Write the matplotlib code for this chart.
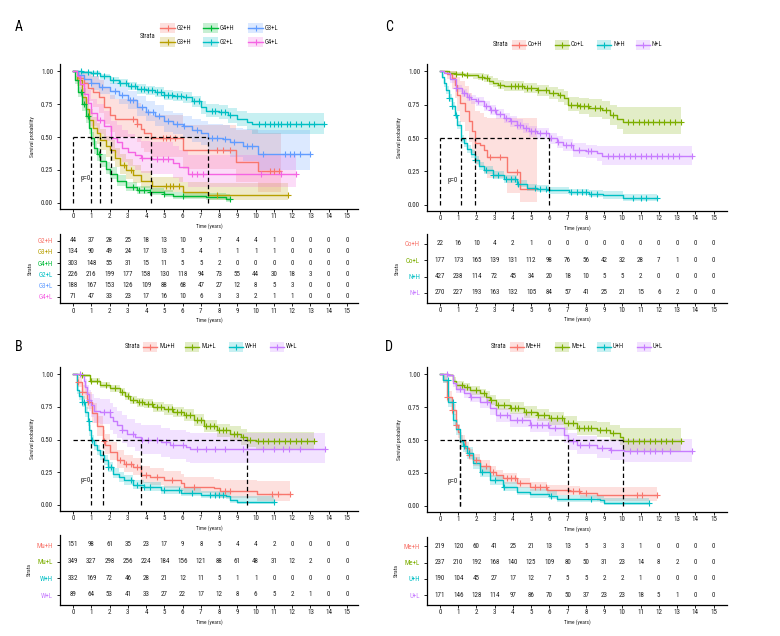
import numpy as np
import matplotlib
matplotlib.use('Agg')
import matplotlib.pyplot as plt
import matplotlib.font_manager as fm
from matplotlib.patches import Rectangle

_entries = fm.fontManager.ttflist
_avail = {f.name for f in _entries}
_cands = ['Liberation Sans Narrow', 'Roboto Condensed', 'Open Sans Condensed', 'Noto Sans Condensed',
          'Noto Sans SemiCondensed', 'DejaVu Sans Condensed', 'Open Sans SemiCondensed']
BASE_FONT = next((c for c in _cands if c in _avail), None)
STRETCH = 'normal'
CONDENSED = True
if BASE_FONT is None:
    cond = [f for f in _entries if 'condensed' in str(f.stretch) or 'narrow' in f.fname.lower()
            or 'condensed' in f.fname.lower()]
    if cond:
        BASE_FONT = cond[0].name
        STRETCH = cond[0].stretch
    else:
        BASE_FONT = 'Liberation Sans'
        CONDENSED = False
plt.rcParams['font.family'] = [BASE_FONT, 'DejaVu Sans']
plt.rcParams['font.stretch'] = STRETCH

YEARS = list(range(16))
YTICKS = [0.0, 0.25, 0.5, 0.75, 1.0]
YTICKLABELS = ['0.00', '0.25', '0.50', '0.75', '1.00']

# ---------------- Panel A ----------------
a_names = ['G2+H', 'G3+H', 'G4+H', 'G2+L', 'G3+L', 'G4+L']
a_colors = ['#F8766D', '#B79F00', '#00BA38', '#00BFC4', '#619CFF', '#F564E3']

a_g2h_t = [0, 0.3, 0.6, 0.8, 1.1, 1.4, 1.7, 2.0, 2.3, 3.5, 3.7, 3.9, 4.27, 6.0, 8.9, 10.1]
a_g2h_s = [1.0, 0.95, 0.91, 0.87, 0.84, 0.80, 0.73, 0.67, 0.64, 0.60, 0.56, 0.53, 0.49, 0.40, 0.31, 0.24]
a_g2h_lo = [1.0, 0.88, 0.82, 0.77, 0.73, 0.68, 0.60, 0.54, 0.50, 0.46, 0.42, 0.39, 0.35, 0.26, 0.16, 0.08]
a_g2h_hi = [1.0, 1.0, 1.0, 0.98, 0.96, 0.93, 0.87, 0.82, 0.79, 0.76, 0.73, 0.70, 0.67, 0.59, 0.55, 0.53]
a_g2h_end = 11.4
a_g2h_cens = [3.3, 3.5, 4.9, 5.1, 5.3, 5.6, 7.9, 8.2, 8.6, 10.8, 11.0, 11.3]

a_g3h_t = [0, 0.2, 0.5, 0.7, 0.9, 1.1, 1.3, 1.46, 1.8, 2.0, 2.3, 2.6, 2.9, 3.3, 3.7, 4.3, 6.0, 7.4]
a_g3h_s = [1.0, 0.93, 0.80, 0.71, 0.63, 0.57, 0.53, 0.48, 0.43, 0.40, 0.34, 0.29, 0.25, 0.21, 0.17, 0.13, 0.085, 0.063]
a_g3h_lo = [1.0, 0.89, 0.74, 0.64, 0.56, 0.49, 0.45, 0.40, 0.35, 0.32, 0.27, 0.22, 0.18, 0.15, 0.11, 0.08, 0.04, 0.02]
a_g3h_hi = [1.0, 0.97, 0.87, 0.79, 0.71, 0.65, 0.61, 0.56, 0.51, 0.48, 0.42, 0.37, 0.33, 0.29, 0.24, 0.20, 0.16, 0.15]
a_g3h_end = 11.75
a_g3h_cens = [2.8, 3.2, 5.1, 5.3, 5.5, 5.8, 7.9, 11.75]

a_g4h_t = [0, 0.1, 0.3, 0.5, 0.7, 0.85, 0.97, 1.15, 1.3, 1.5, 1.8, 2.0, 2.4, 2.9, 3.5, 4.2, 5.0, 5.5, 7.3, 8.4]
a_g4h_s = [1.0, 0.93, 0.84, 0.75, 0.66, 0.57, 0.49, 0.42, 0.37, 0.32, 0.26, 0.22, 0.17, 0.12, 0.095, 0.083, 0.07, 0.05, 0.045, 0.03]
a_g4h_lo = [1.0, 0.90, 0.80, 0.70, 0.61, 0.52, 0.44, 0.37, 0.32, 0.27, 0.22, 0.18, 0.13, 0.09, 0.068, 0.058, 0.046, 0.03, 0.025, 0.01]
a_g4h_hi = [1.0, 0.96, 0.88, 0.80, 0.71, 0.62, 0.54, 0.47, 0.42, 0.37, 0.31, 0.27, 0.21, 0.16, 0.13, 0.115, 0.10, 0.08, 0.075, 0.07]
a_g4h_end = 8.6
a_g4h_cens = [0.45, 0.6, 0.8, 1.4, 3.3, 3.6, 3.9, 4.2, 5.0, 6.0, 8.6]

a_g2l_t = [0, 0.5, 1.0, 1.5, 2.0, 2.5, 3.0, 3.5, 4.0, 4.5, 5.0, 5.5, 6.0, 6.5, 7.0, 7.3, 8.0, 8.5, 9.0, 9.5, 9.8]
a_g2l_s = [1.0, 0.99, 0.985, 0.96, 0.93, 0.91, 0.885, 0.865, 0.855, 0.84, 0.82, 0.81, 0.80, 0.77, 0.725, 0.70, 0.69, 0.665, 0.64, 0.615, 0.60]
a_g2l_lo = [1.0, 0.98, 0.97, 0.94, 0.905, 0.88, 0.855, 0.83, 0.82, 0.80, 0.78, 0.77, 0.755, 0.725, 0.675, 0.65, 0.64, 0.61, 0.58, 0.55, 0.52]
a_g2l_hi = [1.0, 1.0, 1.0, 0.98, 0.955, 0.94, 0.915, 0.90, 0.89, 0.88, 0.86, 0.85, 0.845, 0.815, 0.775, 0.75, 0.74, 0.72, 0.70, 0.685, 0.68]
a_g2l_end = 13.75
a_g2l_cens = [0.45, 0.8, 1.1, 1.3, 1.7, 2.2, 2.6, 2.9, 3.2, 3.4, 3.7, 3.9, 4.1, 4.3, 4.6, 4.8, 5.0, 5.2,
              5.4, 5.7, 5.9, 6.2, 6.6, 6.9, 7.6, 7.8, 8.1, 8.3, 8.6, 10.2, 10.5, 10.8, 11.0, 11.2, 11.4,
              11.7, 11.9, 12.2, 12.5, 12.9, 13.2, 13.75]

a_g3l_t = [0, 0.3, 0.6, 1.0, 1.4, 2.0, 2.5, 3.0, 3.5, 4.0, 4.5, 5.0, 5.5, 6.0, 6.5, 7.0, 7.4, 8.2, 8.6, 9.3, 10.1]
a_g3l_s = [1.0, 0.97, 0.94, 0.91, 0.88, 0.85, 0.82, 0.78, 0.73, 0.69, 0.66, 0.62, 0.60, 0.58, 0.55, 0.53, 0.495, 0.485, 0.46, 0.435, 0.375]
a_g3l_lo = [1.0, 0.94, 0.90, 0.86, 0.83, 0.79, 0.75, 0.71, 0.66, 0.62, 0.58, 0.54, 0.52, 0.49, 0.46, 0.44, 0.40, 0.39, 0.35, 0.32, 0.25]
a_g3l_hi = [1.0, 1.0, 0.98, 0.96, 0.94, 0.91, 0.88, 0.85, 0.81, 0.77, 0.74, 0.70, 0.68, 0.66, 0.64, 0.62, 0.60, 0.59, 0.57, 0.56, 0.55]
a_g3l_end = 13.0
a_g3l_cens = [1.0, 1.6, 2.3, 2.7, 3.1, 3.3, 3.8, 4.1, 4.4, 4.7, 5.2, 5.7, 6.1, 6.8, 7.6, 7.9, 8.3, 8.8,
              9.5, 9.8, 10.4, 11.6, 11.9, 12.1, 12.4, 13.0]

a_g4l_t = [0, 0.2, 0.4, 0.6, 0.8, 1.0, 1.3, 1.7, 2.1, 2.4, 2.7, 3.0, 3.4, 3.7, 4.3, 5.5, 5.8, 6.3]
a_g4l_s = [1.0, 0.96, 0.90, 0.83, 0.76, 0.68, 0.63, 0.58, 0.49, 0.46, 0.42, 0.39, 0.36, 0.34, 0.33, 0.30, 0.27, 0.22]
a_g4l_lo = [1.0, 0.91, 0.83, 0.74, 0.66, 0.58, 0.52, 0.47, 0.38, 0.35, 0.31, 0.28, 0.25, 0.23, 0.22, 0.19, 0.16, 0.12]
a_g4l_hi = [1.0, 1.0, 0.97, 0.92, 0.86, 0.79, 0.75, 0.70, 0.62, 0.59, 0.55, 0.52, 0.49, 0.47, 0.46, 0.43, 0.40, 0.36]
a_g4l_end = 12.2
a_g4l_cens = [1.5, 3.8, 4.6, 4.9, 5.2, 6.5, 6.8, 7.1, 10.3, 11.4, 12.2]

a_risk = [
    [44, 37, 28, 25, 18, 13, 10, 9, 7, 4, 4, 1, 0, 0, 0, 0],
    [134, 90, 49, 24, 17, 13, 5, 4, 1, 1, 1, 1, 0, 0, 0, 0],
    [303, 148, 55, 31, 15, 11, 5, 5, 2, 0, 0, 0, 0, 0, 0, 0],
    [226, 216, 199, 177, 158, 130, 118, 94, 73, 55, 44, 30, 18, 3, 0, 0],
    [188, 167, 153, 126, 109, 88, 68, 47, 27, 12, 8, 5, 3, 0, 0, 0],
    [71, 47, 33, 23, 17, 16, 10, 6, 3, 3, 2, 1, 1, 0, 0, 0],
]

# ---------------- Panel C ----------------
c_names = ['Co+H', 'Co+L', 'N+H', 'N+L']
c_colors = ['#F8766D', '#7CAE00', '#00BFC4', '#C77CFF']

c_coh_t = [0, 0.4, 0.66, 0.84, 0.93, 1.1, 1.4, 1.57, 1.75, 1.9, 2.2, 2.4, 2.6, 3.7, 4.4]
c_coh_s = [1.0, 0.98, 0.95, 0.90, 0.82, 0.76, 0.70, 0.63, 0.55, 0.46, 0.445, 0.41, 0.36, 0.244, 0.12]
c_coh_lo = [1.0, 0.94, 0.87, 0.80, 0.70, 0.62, 0.55, 0.47, 0.39, 0.30, 0.28, 0.24, 0.20, 0.09, 0.02]
c_coh_hi = [1.0, 1.0, 1.0, 1.0, 0.96, 0.93, 0.89, 0.84, 0.78, 0.70, 0.69, 0.66, 0.65, 0.65, 0.65]
c_coh_end = 5.3
c_coh_cens = [2.75, 3.3, 4.2]

c_col_t = [0, 0.5, 0.9, 1.3, 1.8, 2.1, 2.4, 2.7, 2.9, 3.2, 3.5, 4.6, 5.3, 6.0, 6.5, 6.8, 7.0, 7.6, 8.2, 8.9, 9.3, 9.7, 10.06]
c_col_s = [1.0, 0.99, 0.98, 0.975, 0.97, 0.96, 0.95, 0.93, 0.91, 0.90, 0.887, 0.874, 0.857, 0.837, 0.82, 0.80, 0.75, 0.74, 0.724, 0.71, 0.67, 0.645, 0.623]
c_col_lo = [1.0, 0.98, 0.965, 0.955, 0.945, 0.935, 0.92, 0.90, 0.88, 0.865, 0.85, 0.835, 0.815, 0.79, 0.77, 0.75, 0.70, 0.68, 0.66, 0.645, 0.60, 0.565, 0.53]
c_col_hi = [1.0, 1.0, 0.995, 0.99, 0.99, 0.985, 0.98, 0.965, 0.95, 0.935, 0.925, 0.915, 0.90, 0.885, 0.87, 0.855, 0.81, 0.80, 0.79, 0.775, 0.745, 0.73, 0.73]
c_col_end = 13.2
c_col_cens = [0.9, 1.2, 1.5, 2.3, 2.6, 3.3, 3.9, 4.1, 4.3, 4.5, 4.8, 5.0, 5.4, 5.8, 6.2, 6.6, 7.2, 7.5, 7.7,
              7.9, 8.1, 8.5, 8.8, 9.1, 9.5, 10.3, 10.6, 10.9, 11.2, 11.4, 11.7, 12.0, 12.3, 12.6, 12.9, 13.2]

c_nh_t = [0, 0.1, 0.2, 0.35, 0.5, 0.65, 0.8, 0.95, 1.15, 1.3, 1.5, 1.7, 1.9, 2.15, 2.4, 2.9, 3.5, 4.2, 4.75, 5.3, 6.0, 7.1, 8.2, 8.96, 10.06]
c_nh_s = [1.0, 0.96, 0.91, 0.86, 0.80, 0.74, 0.67, 0.60, 0.495, 0.46, 0.42, 0.38, 0.334, 0.29, 0.26, 0.22, 0.19, 0.158, 0.128, 0.12, 0.108, 0.095, 0.083, 0.07, 0.05]
c_nh_lo = [1.0, 0.94, 0.88, 0.83, 0.77, 0.71, 0.64, 0.57, 0.465, 0.43, 0.39, 0.35, 0.305, 0.26, 0.23, 0.19, 0.16, 0.13, 0.10, 0.095, 0.083, 0.07, 0.058, 0.045, 0.03]
c_nh_hi = [1.0, 0.98, 0.94, 0.89, 0.83, 0.77, 0.70, 0.63, 0.525, 0.49, 0.45, 0.41, 0.365, 0.32, 0.29, 0.25, 0.22, 0.188, 0.158, 0.15, 0.135, 0.122, 0.11, 0.10, 0.08]
c_nh_end = 11.9
c_nh_cens = [0.5, 0.65, 0.9, 1.9, 2.5, 2.9, 3.2, 3.6, 3.9, 4.1, 4.3, 5.2, 5.5, 5.8, 6.0, 7.2, 7.5, 7.8, 8.0,
             8.3, 8.6, 10.6, 11.0, 11.3, 11.9]

c_nl_t = [0, 0.2, 0.55, 0.9, 1.2, 1.46, 1.7, 2.0, 2.4, 2.74, 3.1, 3.5, 3.85, 4.2, 4.55, 4.9, 5.3, 5.97, 6.4, 6.77, 7.3, 8.0, 8.6, 8.9]
c_nl_s = [1.0, 0.99, 0.94, 0.874, 0.84, 0.81, 0.79, 0.774, 0.74, 0.71, 0.68, 0.65, 0.625, 0.60, 0.575, 0.55, 0.535, 0.497, 0.47, 0.447, 0.41, 0.40, 0.385, 0.364]
c_nl_lo = [1.0, 0.98, 0.915, 0.845, 0.81, 0.775, 0.755, 0.74, 0.70, 0.67, 0.64, 0.61, 0.585, 0.56, 0.535, 0.51, 0.495, 0.455, 0.425, 0.40, 0.36, 0.35, 0.33, 0.30]
c_nl_hi = [1.0, 1.0, 0.96, 0.90, 0.87, 0.84, 0.825, 0.81, 0.78, 0.75, 0.72, 0.69, 0.665, 0.64, 0.615, 0.59, 0.575, 0.54, 0.515, 0.495, 0.46, 0.45, 0.44, 0.44]
c_nl_end = 13.8
c_nl_cens = [0.9, 1.3, 1.6, 2.1, 2.5, 2.8, 3.0, 3.3, 3.6, 3.9, 4.2, 4.4, 4.7, 5.0, 5.2, 5.5, 5.8, 6.1, 6.5,
             6.9, 7.2, 7.6, 8.1, 8.3, 9.2, 9.5, 9.8, 10.1, 10.4, 10.7, 11.0, 11.3, 11.6, 11.9, 12.2, 12.5,
             12.8, 13.1, 13.8]

c_risk = [
    [22, 16, 10, 4, 2, 1, 0, 0, 0, 0, 0, 0, 0, 0, 0, 0],
    [177, 173, 165, 139, 131, 112, 98, 76, 56, 42, 32, 28, 7, 1, 0, 0],
    [427, 238, 114, 72, 45, 34, 20, 18, 10, 5, 5, 2, 0, 0, 0, 0],
    [270, 227, 193, 163, 132, 105, 84, 57, 41, 25, 21, 15, 6, 2, 0, 0],
]

# ---------------- Panel B ----------------
b_names = ['Mu+H', 'Mu+L', 'W+H', 'W+L']
b_colors = ['#F8766D', '#7CAE00', '#00BFC4', '#C77CFF']

b_muh_t = [0, 0.2, 0.5, 0.77, 1.04, 1.3, 1.63, 1.77, 2.04, 2.4, 2.8, 3.3, 3.7, 4.2, 5.0, 5.9, 6.06, 7.7, 8.07, 10.07]
b_muh_s = [1.0, 0.94, 0.86, 0.79, 0.70, 0.60, 0.49, 0.457, 0.406, 0.343, 0.31, 0.29, 0.23, 0.21, 0.19, 0.165, 0.14, 0.127, 0.11, 0.084]
b_muh_lo = [1.0, 0.90, 0.81, 0.73, 0.63, 0.53, 0.42, 0.39, 0.34, 0.28, 0.25, 0.23, 0.17, 0.15, 0.13, 0.11, 0.09, 0.07, 0.055, 0.03]
b_muh_hi = [1.0, 0.98, 0.92, 0.86, 0.78, 0.68, 0.57, 0.54, 0.48, 0.42, 0.38, 0.36, 0.30, 0.28, 0.26, 0.24, 0.21, 0.20, 0.19, 0.18]
b_muh_end = 11.9
b_muh_cens = [0.3, 0.5, 0.8, 1.7, 2.6, 2.9, 3.2, 3.5, 4.0, 4.6, 5.4, 6.6, 8.3, 8.6, 10.9, 11.2, 11.9]

b_mul_t = [0, 0.4, 0.95, 1.5, 2.04, 2.6, 2.85, 3.1, 3.5, 3.9, 4.4, 5.0, 5.5, 6.06, 6.6, 7.15, 7.9, 8.6, 9.2, 9.5, 10.0]
b_mul_s = [1.0, 0.99, 0.95, 0.914, 0.89, 0.863, 0.83, 0.80, 0.785, 0.774, 0.75, 0.73, 0.71, 0.685, 0.647, 0.60, 0.57, 0.546, 0.52, 0.498, 0.49]
b_mul_lo = [1.0, 0.98, 0.93, 0.89, 0.86, 0.83, 0.80, 0.77, 0.75, 0.74, 0.71, 0.69, 0.67, 0.64, 0.60, 0.555, 0.52, 0.495, 0.46, 0.44, 0.42]
b_mul_hi = [1.0, 1.0, 0.97, 0.94, 0.92, 0.895, 0.865, 0.835, 0.82, 0.81, 0.79, 0.77, 0.75, 0.73, 0.695, 0.65, 0.62, 0.60, 0.58, 0.56, 0.555]
b_mul_end = 13.2
b_mul_cens = [0.5, 1.0, 1.3, 1.8, 2.3, 2.7, 3.0, 3.3, 3.6, 3.8, 4.1, 4.3, 4.6, 4.8, 5.2, 5.4, 5.7, 5.9, 6.2,
              6.4, 6.8, 7.0, 7.3, 7.5, 7.7, 8.0, 8.2, 8.4, 8.8, 9.0, 9.3, 9.7, 10.1, 10.4, 10.7, 11.0, 11.3,
              11.6, 11.9, 12.2, 12.5, 12.8, 13.2]

b_wh_t = [0, 0.2, 0.35, 0.5, 0.68, 0.82, 0.9, 1.0, 1.17, 1.3, 1.5, 1.68, 1.9, 2.2, 2.5, 2.8, 3.3, 3.9, 4.8, 5.9, 7.0, 8.4, 8.6, 9.0]
b_wh_s = [1.0, 0.88, 0.83, 0.79, 0.71, 0.64, 0.57, 0.495, 0.46, 0.42, 0.38, 0.343, 0.29, 0.24, 0.21, 0.19, 0.152, 0.14, 0.114, 0.094, 0.076, 0.069, 0.038, 0.025]
b_wh_lo = [1.0, 0.85, 0.80, 0.75, 0.67, 0.60, 0.53, 0.455, 0.42, 0.38, 0.34, 0.305, 0.255, 0.205, 0.175, 0.155, 0.12, 0.108, 0.085, 0.067, 0.05, 0.043, 0.018, 0.008]
b_wh_hi = [1.0, 0.91, 0.87, 0.83, 0.75, 0.68, 0.61, 0.535, 0.50, 0.46, 0.42, 0.385, 0.33, 0.28, 0.25, 0.23, 0.19, 0.175, 0.148, 0.127, 0.11, 0.10, 0.07, 0.065]
b_wh_end = 11.0
b_wh_cens = [0.5, 0.6, 0.85, 1.05, 1.9, 2.1, 3.2, 3.5, 3.9, 4.2, 5.0, 5.8, 6.5, 7.5, 7.8, 8.0, 8.2, 11.0]

b_wl_t = [0, 0.5, 0.6, 0.68, 0.77, 0.86, 1.0, 1.13, 1.5, 2.04, 2.2, 2.4, 2.7, 2.96, 3.4, 3.75, 4.8, 5.3, 6.2, 6.4]
b_wl_s = [1.0, 0.99, 0.95, 0.90, 0.85, 0.80, 0.76, 0.72, 0.71, 0.67, 0.64, 0.61, 0.57, 0.546, 0.52, 0.495, 0.48, 0.457, 0.44, 0.424]
b_wl_lo = [1.0, 0.97, 0.90, 0.84, 0.78, 0.72, 0.67, 0.63, 0.62, 0.57, 0.54, 0.51, 0.47, 0.44, 0.41, 0.39, 0.37, 0.35, 0.33, 0.32]
b_wl_hi = [1.0, 1.0, 1.0, 0.96, 0.92, 0.88, 0.85, 0.82, 0.81, 0.78, 0.75, 0.72, 0.69, 0.66, 0.63, 0.61, 0.59, 0.57, 0.56, 0.55]
b_wl_end = 13.8
b_wl_cens = [0.4, 0.9, 1.7, 2.0, 2.7, 3.3, 3.8, 4.1, 4.6, 5.1, 5.5, 6.0, 6.8, 7.3, 7.8, 8.3, 9.3, 10.4,
             11.0, 11.5, 11.8, 12.4, 13.8]

b_risk = [
    [151, 98, 61, 35, 23, 17, 9, 8, 5, 4, 4, 2, 0, 0, 0, 0],
    [349, 327, 298, 256, 224, 184, 156, 121, 88, 61, 48, 31, 12, 2, 0, 0],
    [332, 169, 72, 46, 28, 21, 12, 11, 5, 1, 1, 0, 0, 0, 0, 0],
    [89, 64, 53, 41, 33, 27, 22, 17, 12, 8, 6, 5, 2, 1, 0, 0],
]

# ---------------- Panel D ----------------
d_names = ['Me+H', 'Me+L', 'U+H', 'U+L']
d_colors = ['#F8766D', '#7CAE00', '#00BFC4', '#C77CFF']

d_meh_t = [0, 0.18, 0.37, 0.64, 0.9, 1.0, 1.12, 1.37, 1.6, 1.83, 2.2, 2.75, 3.1, 3.48, 4.2, 4.95, 5.86, 7.1, 7.7, 8.6]
d_meh_s = [1.0, 0.957, 0.83, 0.73, 0.615, 0.56, 0.495, 0.438, 0.39, 0.35, 0.30, 0.26, 0.235, 0.21, 0.172, 0.147, 0.12, 0.116, 0.10, 0.084]
d_meh_lo = [1.0, 0.93, 0.79, 0.69, 0.57, 0.515, 0.45, 0.395, 0.345, 0.305, 0.26, 0.22, 0.195, 0.17, 0.135, 0.11, 0.085, 0.08, 0.06, 0.04]
d_meh_hi = [1.0, 0.985, 0.87, 0.77, 0.66, 0.605, 0.54, 0.485, 0.435, 0.395, 0.345, 0.30, 0.275, 0.25, 0.21, 0.185, 0.16, 0.155, 0.145, 0.14]
d_meh_end = 11.9
d_meh_cens = [0.4, 0.65, 0.9, 1.6, 2.0, 2.5, 2.9, 3.7, 3.9, 4.1, 4.4, 5.2, 5.5, 5.8, 7.0, 7.3, 7.6, 8.0,
              10.8, 11.1, 11.9]

d_mel_t = [0, 0.46, 0.7, 0.9, 1.3, 1.65, 2.2, 2.5, 2.75, 3.1, 3.85, 4.6, 5.3, 6.0, 6.8, 7.5, 8.6, 9.3, 9.9, 10.05]
d_mel_s = [1.0, 0.995, 0.95, 0.92, 0.90, 0.88, 0.856, 0.83, 0.805, 0.767, 0.742, 0.716, 0.69, 0.666, 0.628, 0.59, 0.577, 0.552, 0.526, 0.496]
d_mel_lo = [1.0, 0.985, 0.925, 0.89, 0.87, 0.845, 0.82, 0.79, 0.765, 0.725, 0.70, 0.67, 0.645, 0.615, 0.575, 0.535, 0.52, 0.49, 0.46, 0.42]
d_mel_hi = [1.0, 1.0, 0.975, 0.95, 0.93, 0.91, 0.89, 0.87, 0.845, 0.81, 0.785, 0.76, 0.735, 0.715, 0.68, 0.645, 0.635, 0.615, 0.595, 0.59]
d_mel_end = 13.2
d_mel_cens = [1.2, 1.5, 2.0, 2.4, 2.8, 3.2, 3.5, 3.9, 4.1, 4.3, 4.7, 5.0, 5.4, 5.7, 6.1, 6.4, 6.7, 7.0, 7.3,
              7.6, 7.9, 8.1, 8.3, 8.8, 9.1, 9.5, 10.3, 10.6, 10.9, 11.2, 11.5, 11.8, 12.1, 12.4, 12.7, 13.2]

d_uh_t = [0, 0.18, 0.46, 0.73, 0.9, 1.1, 1.25, 1.46, 1.83, 2.2, 2.75, 3.48, 4.2, 4.95, 6.0, 6.4, 8.8, 9.0]
d_uh_s = [1.0, 0.957, 0.79, 0.653, 0.58, 0.49, 0.455, 0.40, 0.324, 0.26, 0.197, 0.147, 0.109, 0.091, 0.076, 0.05, 0.046, 0.025]
d_uh_lo = [1.0, 0.93, 0.75, 0.61, 0.535, 0.445, 0.41, 0.355, 0.28, 0.22, 0.16, 0.115, 0.08, 0.064, 0.05, 0.03, 0.026, 0.01]
d_uh_hi = [1.0, 0.985, 0.83, 0.70, 0.625, 0.535, 0.50, 0.445, 0.37, 0.30, 0.235, 0.185, 0.145, 0.125, 0.11, 0.085, 0.08, 0.06]
d_uh_end = 11.45
d_uh_cens = [0.45, 0.7, 1.3, 1.6, 2.3, 3.0, 3.5, 6.1, 8.3, 11.45]

d_ul_t = [0, 0.46, 0.7, 0.9, 1.3, 1.65, 2.2, 2.75, 3.1, 3.85, 4.95, 6.0, 6.8, 7.0, 7.5, 8.6, 9.3, 10.07]
d_ul_s = [1.0, 0.995, 0.93, 0.89, 0.86, 0.83, 0.79, 0.74, 0.69, 0.653, 0.615, 0.59, 0.54, 0.489, 0.463, 0.438, 0.425, 0.418]
d_ul_lo = [1.0, 0.98, 0.90, 0.855, 0.82, 0.79, 0.745, 0.69, 0.64, 0.60, 0.56, 0.53, 0.48, 0.425, 0.395, 0.365, 0.345, 0.33]
d_ul_hi = [1.0, 1.0, 0.965, 0.925, 0.90, 0.87, 0.835, 0.79, 0.74, 0.705, 0.67, 0.65, 0.60, 0.55, 0.53, 0.51, 0.505, 0.51]
d_ul_end = 13.8
d_ul_cens = [0.4, 1.1, 1.7, 2.6, 3.3, 3.7, 4.2, 4.5, 5.0, 5.3, 5.6, 5.9, 6.3, 7.3, 7.7, 8.2, 8.9, 9.4,
             10.4, 10.8, 11.2, 11.5, 11.8, 12.2, 12.6, 13.8]

d_risk = [
    [219, 120, 60, 41, 25, 21, 13, 13, 5, 3, 3, 1, 0, 0, 0, 0],
    [237, 210, 192, 168, 140, 125, 109, 80, 50, 31, 23, 14, 8, 2, 0, 0],
    [190, 104, 45, 27, 17, 12, 7, 5, 5, 2, 2, 1, 0, 0, 0, 0],
    [171, 146, 128, 114, 97, 86, 70, 50, 37, 23, 23, 18, 5, 1, 0, 0],
]

# ---------------- drawing ----------------
W, H = 780, 636
TXT = '#222222'
if CONDENSED:
    FS, FS_TITLE, FS_LEG = 5.0, 3.9, 4.8
else:
    FS, FS_TITLE, FS_LEG = 4.4, 3.4, 4.2


def rect(l, t, r, b):
    return [l / W, 1 - b / H, (r - l) / W, (b - t) / H]


def step_value(t, s, x):
    idx = np.searchsorted(np.asarray(t), np.asarray(x), side='right') - 1
    return np.asarray(s)[np.clip(idx, 0, len(s) - 1)]


def draw_curve(ax, t, s, lo, hi, end, cens, color):
    x = list(t) + [end]
    ax.fill_between(x, list(lo) + [lo[-1]], list(hi) + [hi[-1]], step='post',
                    color=color, alpha=0.22, lw=0, zorder=1)
    ax.plot(x, list(s) + [s[-1]], drawstyle='steps-post', color=color, lw=1.0, zorder=3)
    cx = np.asarray(cens)
    ax.plot(cx, step_value(t, s, cx), ls='none', marker='+', ms=4.2, mew=0.8,
            color=color, zorder=4)


def median_of(t, s):
    s = np.asarray(s)
    return float(np.asarray(t)[np.argmax(s <= 0.5)])


def style_axes(ax, xlim):
    ax.set_xlim(xlim)
    for sp in ['top', 'right']:
        ax.spines[sp].set_visible(False)
    for sp in ['left', 'bottom']:
        ax.spines[sp].set_linewidth(0.9)
        ax.spines[sp].set_color('black')
    ax.set_xticks(YEARS)
    ax.tick_params(axis='both', labelsize=FS, length=2.4, width=0.6, colors='black',
                   labelcolor=TXT)
    ax.tick_params(axis='x', pad=0.8)
    ax.tick_params(axis='y', pad=2.6)
    ax.set_facecolor('none')


def draw_main(ax, curves, colors, xlim):
    style_axes(ax, xlim)
    ax.set_ylim(-0.046, 1.054)
    ax.set_yticks(YTICKS)
    ax.set_yticklabels(YTICKLABELS)
    meds = []
    for (t, s, lo, hi, end, cens), c in zip(curves, colors):
        draw_curve(ax, t, s, lo, hi, end, cens, c)
        meds.append(median_of(t, s))
    ax.plot([0, max(meds)], [0.5, 0.5], ls=(0, (3.5, 2.2)), color='black', lw=0.9, zorder=5)
    for m in meds:
        ax.plot([m, m], [0, 0.5], ls=(0, (3.5, 2.2)), color='black', lw=0.9, zorder=5)
    ax.text(0.7, 0.185, 'p=0', fontsize=FS, color=TXT, ha='center', va='center')
    ax.set_xlabel('Time (years)', fontsize=FS_TITLE, labelpad=1.8, color=TXT)
    ax.set_ylabel('Survival probability', fontsize=FS_TITLE, labelpad=4.5, color=TXT)


def draw_table(ax, names, colors, counts, xlim):
    style_axes(ax, xlim)
    n = len(names)
    ax.set_ylim(n + 0.6, 0.4)
    for i, row in enumerate(counts):
        for x, v in zip(YEARS, row):
            ax.text(x, i + 1, str(v), ha='center', va='center', fontsize=FS, color=TXT)
    ax.set_yticks(range(1, n + 1))
    ax.set_yticklabels(names)
    for lab, c in zip(ax.get_yticklabels(), colors):
        lab.set_color(c)
    ax.set_xlabel('Time (years)', fontsize=FS_TITLE, labelpad=1.8, color=TXT)
    ax.set_ylabel('Strata', fontsize=FS_TITLE, labelpad=3.5, color=TXT)


fig = plt.figure(figsize=(W / 100, H / 100), dpi=100)

XL_AB = (-0.71, 15.6)
XL_CD = (-0.71, 15.74)

panels = [
    (rect(60, 64, 358, 209), rect(60, 234, 358, 303.3), a_names, a_colors, [
        (a_g2h_t, a_g2h_s, a_g2h_lo, a_g2h_hi, a_g2h_end, a_g2h_cens),
        (a_g3h_t, a_g3h_s, a_g3h_lo, a_g3h_hi, a_g3h_end, a_g3h_cens),
        (a_g4h_t, a_g4h_s, a_g4h_lo, a_g4h_hi, a_g4h_end, a_g4h_cens),
        (a_g2l_t, a_g2l_s, a_g2l_lo, a_g2l_hi, a_g2l_end, a_g2l_cens),
        (a_g3l_t, a_g3l_s, a_g3l_lo, a_g3l_hi, a_g3l_end, a_g3l_cens),
        (a_g4l_t, a_g4l_s, a_g4l_lo, a_g4l_hi, a_g4l_end, a_g4l_cens),
    ], a_risk, XL_AB),
    (rect(427, 64, 727, 211), rect(427, 234, 727, 302.7), c_names, c_colors, [
        (c_coh_t, c_coh_s, c_coh_lo, c_coh_hi, c_coh_end, c_coh_cens),
        (c_col_t, c_col_s, c_col_lo, c_col_hi, c_col_end, c_col_cens),
        (c_nh_t, c_nh_s, c_nh_lo, c_nh_hi, c_nh_end, c_nh_cens),
        (c_nl_t, c_nl_s, c_nl_lo, c_nl_hi, c_nl_end, c_nl_cens),
    ], c_risk, XL_CD),
    (rect(60, 367, 358, 511), rect(60, 535, 358, 605), b_names, b_colors, [
        (b_muh_t, b_muh_s, b_muh_lo, b_muh_hi, b_muh_end, b_muh_cens),
        (b_mul_t, b_mul_s, b_mul_lo, b_mul_hi, b_mul_end, b_mul_cens),
        (b_wh_t, b_wh_s, b_wh_lo, b_wh_hi, b_wh_end, b_wh_cens),
        (b_wl_t, b_wl_s, b_wl_lo, b_wl_hi, b_wl_end, b_wl_cens),
    ], b_risk, XL_AB),
    (rect(427, 367, 727, 512), rect(427, 536.7, 727, 605), d_names, d_colors, [
        (d_meh_t, d_meh_s, d_meh_lo, d_meh_hi, d_meh_end, d_meh_cens),
        (d_mel_t, d_mel_s, d_mel_lo, d_mel_hi, d_mel_end, d_mel_cens),
        (d_uh_t, d_uh_s, d_uh_lo, d_uh_hi, d_uh_end, d_uh_cens),
        (d_ul_t, d_ul_s, d_ul_lo, d_ul_hi, d_ul_end, d_ul_cens),
    ], d_risk, XL_CD),
]

for mrect, trect, names, colors, curves, risk, xl in panels:
    axm = fig.add_axes(mrect)
    draw_main(axm, curves, colors, xl)
    axt = fig.add_axes(trect)
    draw_table(axt, names, colors, risk, xl)

ov = fig.add_axes([0, 0, 1, 1], zorder=10)
ov.set_xlim(0, W)
ov.set_ylim(H, 0)
ov.axis('off')
ov.patch.set_alpha(0)

for letter, (lx, ly) in zip(['A', 'C', 'B', 'D'], [(19, 27), (389, 27), (19, 347), (389, 347)]):
    ov.text(lx, ly, letter, fontsize=10, ha='center', va='center', color='black')


def legend_key(x, y, color, label, w=14, h=10.5):
    ov.add_patch(Rectangle((x, y - h / 2), w, h, facecolor=color, alpha=0.22, lw=0))
    ov.plot([x, x + w], [y, y], color=color, lw=1.0)
    ov.plot([x + w / 2], [y], marker='+', ms=4.2, mew=0.8, color=color)
    ov.text(x + w + 2, y, label, fontsize=FS_LEG, ha='left', va='center', color=TXT)


ov.text(148, 36, 'Strata', fontsize=FS_LEG, ha='center', va='center', color=TXT)
a_key_x = [160, 160, 203, 203, 248, 248]
a_key_y = [28, 42, 28, 42, 28, 42]
for kx, ky, c, nm in zip(a_key_x, a_key_y, a_colors, a_names):
    legend_key(kx, ky, c, nm, w=15)

for sx, sy, kxs, cols, nms in [
    (501, 45, [512, 555, 597, 636], c_colors, c_names),
    (133, 347, [143, 185, 229, 270], b_colors, b_names),
    (499, 347, [510, 555, 597, 637], d_colors, d_names),
]:
    ov.text(sx, sy, 'Strata', fontsize=FS_LEG, ha='center', va='center', color=TXT)
    for kx, c, nm in zip(kxs, cols, nms):
        legend_key(kx, sy, c, nm, w=14)

fig.savefig('out.png', dpi=100)
